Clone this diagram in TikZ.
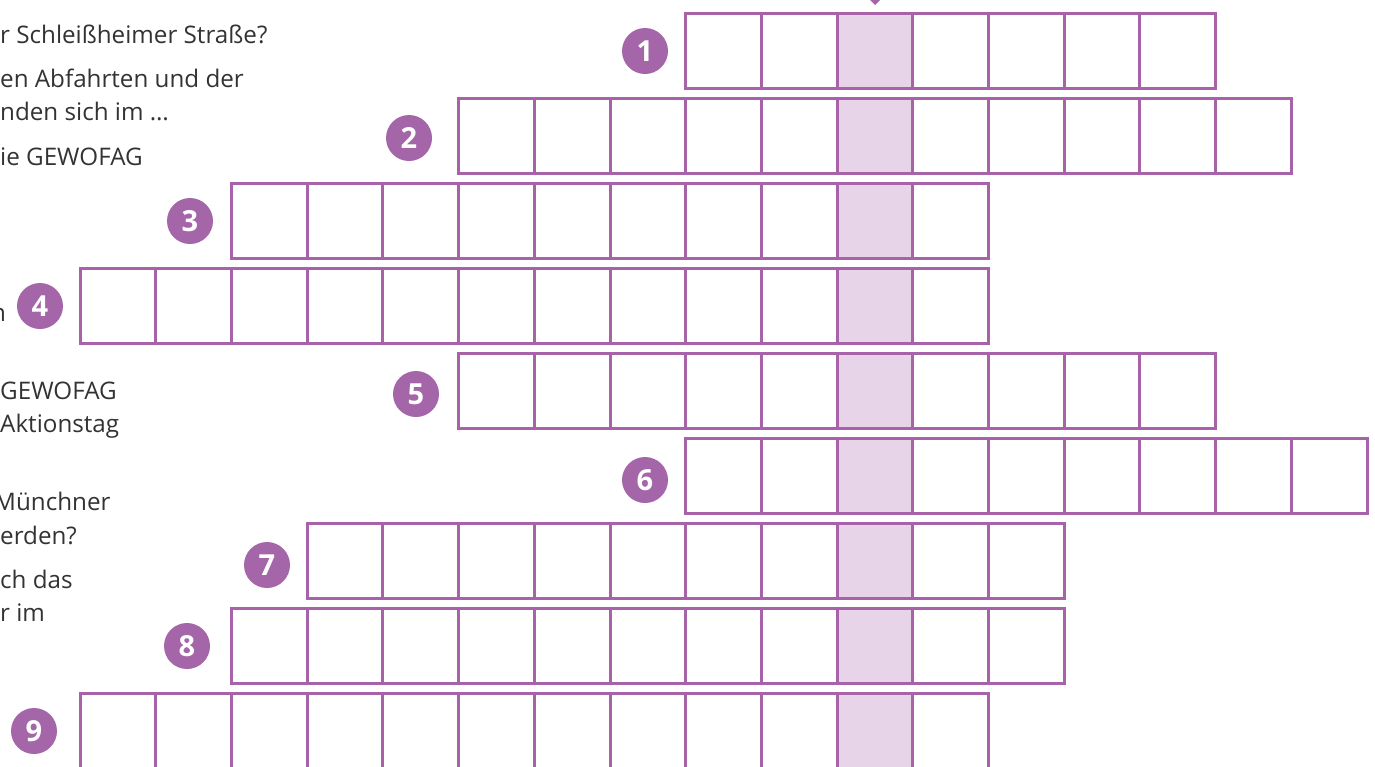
\documentclass[tikz,border=0pt]{standalone}
\usepackage{fontspec}
\setmainfont{Open Sans}
\definecolor{gridline}{HTML}{A862AA}
\definecolor{numdisc}{HTML}{A466A8}
\definecolor{keycol}{HTML}{E8D4E8}
\tikzset{
  cellbox/.style={draw=gridline, line width=3pt, minimum size=75.7pt,
    inner sep=0pt, outer sep=0pt},
  keybox/.style={cellbox, fill=keycol},
  numdot/.style={circle, fill=numdisc, minimum size=46pt, inner sep=0pt,
    text=white, font=\fontsize{29}{29}\selectfont\bfseries},
  cluetext/.style={anchor=base west, inner sep=0pt,
    font=\fontsize{24.2}{24}\selectfont, text=black!80}
}
\begin{document}
\begin{tikzpicture}[x=1pt, y=-1pt]
  \useasboundingbox (0,0) rectangle (1375,766);
  \clip (0,0) rectangle (1375,766);
  % clue texts (cut off at the left)
  \node[cluetext] (c1) at (0,43) {r Schleißheimer Straße?};
  \node[cluetext] (c2) at (0,87) {en Abfahrten und der};
  \node[cluetext] (c3) at (0,120) {nden sich im \dots};
  \node[cluetext] (c4) at (0,165) {ie GEWOFAG};
  \node[cluetext] (c5) at (-9,321) {n};
  \node[cluetext] (c6) at (0,399) {GEWOFAG};
  \node[cluetext] (c7) at (0,432) {Aktionstag};
  \node[cluetext] (c8) at (-6,510) {Münchner};
  \node[cluetext] (c9) at (0,544) {erden?};
  \node[cluetext] (c10) at (0,588) {ch das};
  \node[cluetext] (c11) at (0,621) {r im};
  % rows: number / first / last column (0 = key column) / disc position
  \foreach \r/\first/\last/\dx/\dy in {1/-2/4/645/51, 2/-5/5/409/138,
      3/-8/1/190/221, 4/-10/1/40/306, 5/-5/4/416/394, 6/-2/6/645/480,
      7/-7/2/267/565, 8/-8/2/187/646, 9/-10/1/34/731} {
    \foreach \k in {\first,...,\last} {
      \ifnum\k=0
        \node[keybox] (cell-\r-\k) at ({875+75.7*\k},{51+85*(\r-1)}) {};
      \else
        \node[cellbox] (cell-\r-\k) at ({875+75.7*\k},{51+85*(\r-1)}) {};
      \fi
    }
    \node[numdot] (num\r) at (\dx,\dy) {\r};
  }
  % marker above the key column
  \fill[gridline] (861,-9) -- (889,-9) -- (875,5) -- cycle;
\end{tikzpicture}
\end{document}
